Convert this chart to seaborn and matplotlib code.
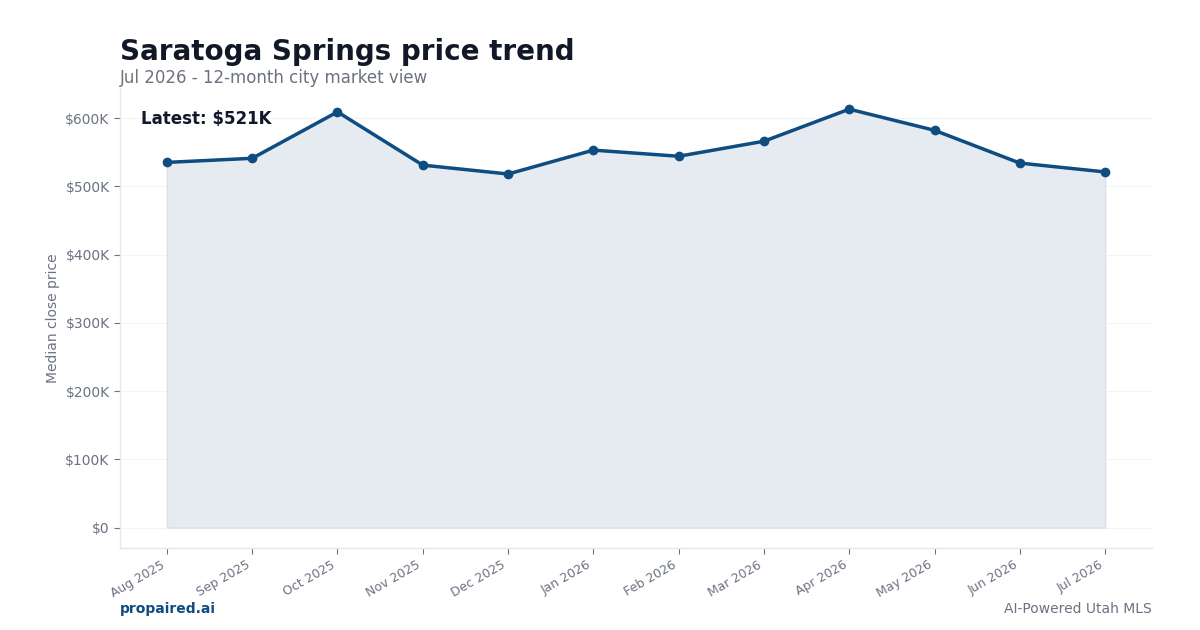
import matplotlib
matplotlib.use("Agg")
import matplotlib.pyplot as plt
import numpy as np
import pandas as pd
import seaborn as sns

months = ["Aug 2025", "Sep 2025", "Oct 2025", "Nov 2025", "Dec 2025", "Jan 2026",
          "Feb 2026", "Mar 2026", "Apr 2026", "May 2026", "Jun 2026", "Jul 2026"]
median_price = [535000, 541000, 609000, 531000, 518000, 553000,
                544000, 566000, 613000, 582000, 534000, 521000]
yticks = [0, 100000, 200000, 300000, 400000, 500000, 600000]

sns.set_theme(style="white")
plt.rcParams['font.family'] = ['DejaVu Sans']

df = pd.DataFrame({"month": months, "price": median_price})
df["idx"] = np.arange(len(df))

line_col = "#0f4c81"
grey = "#6b7280"

fig = plt.figure(figsize=(12, 6.3), dpi=100)
ax = fig.add_axes([0.1, 0.1302, 0.86, 0.7301])

# opaque fill so the grid does not show through
ax.fill_between(df["idx"], 0, df["price"], facecolor="#e6ebf2", edgecolor="#d9e0ea",
                linewidth=1, zorder=2)
sns.lineplot(data=df, x="idx", y="price", ax=ax, color=line_col, linewidth=2.5,
             marker="o", markersize=7, markeredgewidth=0, zorder=3)

ax.set_xlim(-0.55, 11.55)
ax.set_ylim(-30000, 644000)
ax.set_xticks(df["idx"])
ax.set_xticklabels(months, rotation=30, ha="right", fontsize=9, color=grey)
ax.set_yticks(yticks)
ax.set_yticklabels(["$0" if v == 0 else f"${v // 1000}K" for v in yticks],
                   fontsize=10, color=grey)
ax.tick_params(axis="both", length=4, color=grey, width=0.8, bottom=True, left=True)
ax.set_xlabel("")
ax.set_ylabel("Median close price", fontsize=10, color=grey)
ax.yaxis.grid(True, color="#f3f4f6", linewidth=0.8, zorder=1)
ax.set_axisbelow(True)
for s in ["top", "right"]:
    ax.spines[s].set_visible(False)
for s in ["left", "bottom"]:
    ax.spines[s].set_color("#e5e7eb")
    ax.spines[s].set_linewidth(1)

ax.text(0.02, 0.933, f"Latest: ${median_price[-1] // 1000}K", transform=ax.transAxes,
        fontsize=12, fontweight="bold", color="#111827", va="center", zorder=4)

fig.text(0.1, 0.918, "Saratoga Springs price trend", fontsize=20, fontweight="bold",
         color="#111827", va="center")
fig.text(0.1, 0.876, "Jul 2026 - 12-month city market view", fontsize=12, color=grey,
         va="center")
fig.text(0.1, 0.033, "propaired.ai", fontsize=10, fontweight="bold", color=line_col,
         va="center")
fig.text(0.96, 0.033, "AI-Powered Utah MLS", fontsize=10, color=grey, va="center",
         ha="right")

fig.savefig("out.png", dpi=100, facecolor="white")
